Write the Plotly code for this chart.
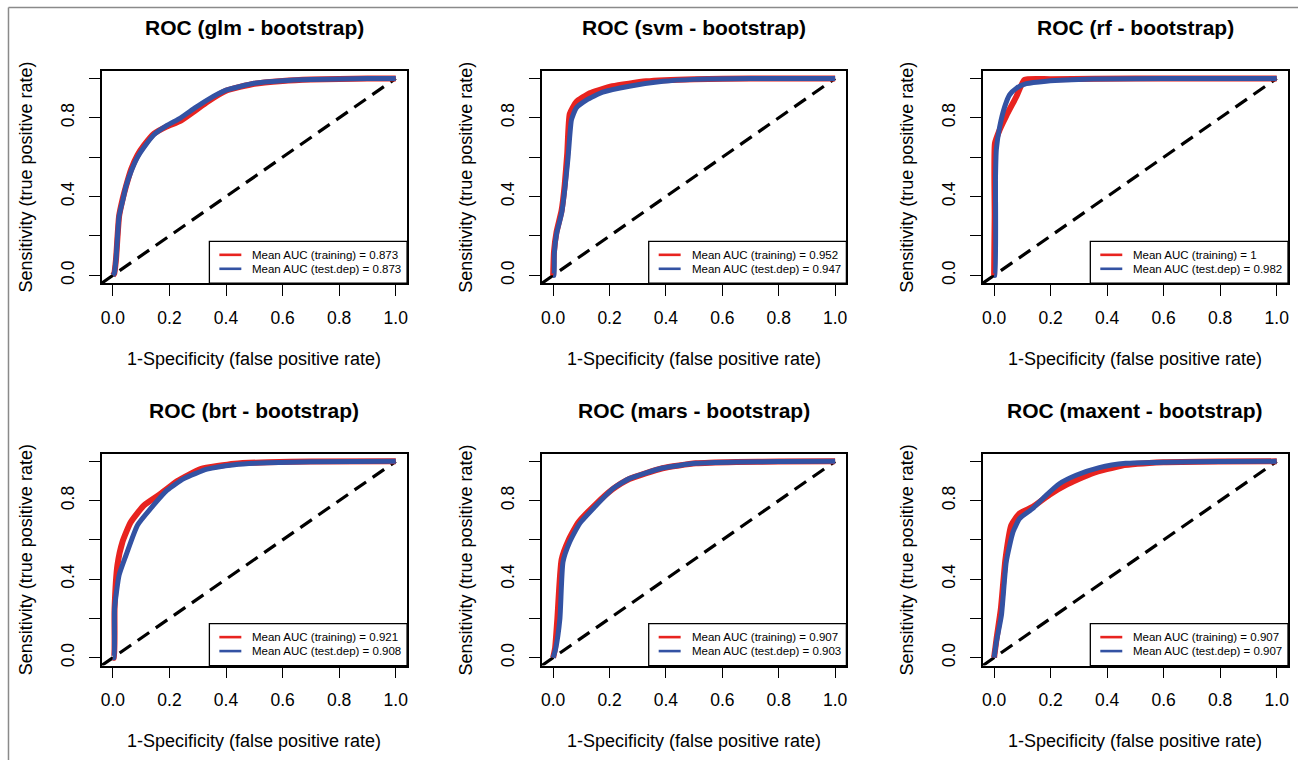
import plotly.graph_objects as go

# ---------------- data ----------------
model_titles = ["ROC (glm - bootstrap)", "ROC (svm - bootstrap)", "ROC (rf - bootstrap)",
                "ROC (brt - bootstrap)", "ROC (mars - bootstrap)", "ROC (maxent - bootstrap)"]
auc_training = ["0.873", "0.952", "1", "0.921", "0.907", "0.907"]
auc_testdep = ["0.873", "0.947", "0.982", "0.908", "0.903", "0.907"]

glm_train_fpr = [0, 0.005, 0.011, 0.022, 0.035, 0.046, 0.065, 0.087, 0.11, 0.146, 0.19, 0.24, 0.29, 0.333, 0.4, 0.5, 0.6, 0.7, 0.8, 0.9, 1.0]
glm_train_tpr = [0, 0.01, 0.08, 0.3, 0.39, 0.45, 0.54, 0.61, 0.66, 0.72, 0.755, 0.785, 0.835, 0.88, 0.937, 0.973, 0.987, 0.994, 0.997, 0.999, 1.0]
glm_test_fpr = [0, 0.005, 0.011, 0.022, 0.035, 0.046, 0.065, 0.087, 0.11, 0.146, 0.19, 0.24, 0.29, 0.333, 0.4, 0.5, 0.6, 0.7, 0.8, 0.9, 1.0]
glm_test_tpr = [0, 0.01, 0.08, 0.3, 0.38, 0.45, 0.53, 0.6, 0.65, 0.715, 0.76, 0.8, 0.85, 0.89, 0.94, 0.975, 0.988, 0.994, 0.997, 0.999, 1.0]

svm_train_fpr = [0, 0.003, 0.012, 0.03, 0.041, 0.05, 0.059, 0.082, 0.13, 0.21, 0.33, 0.5, 0.7, 1.0]
svm_train_tpr = [0, 0.12, 0.22, 0.33, 0.46, 0.62, 0.82, 0.88, 0.925, 0.96, 0.985, 0.996, 0.999, 1.0]
svm_test_fpr = [0, 0.003, 0.004, 0.012, 0.03, 0.041, 0.053, 0.065, 0.082, 0.118, 0.176, 0.27, 0.39, 0.5, 0.7, 1.0]
svm_test_tpr = [0, 0.0, 0.11, 0.21, 0.315, 0.434, 0.6, 0.79, 0.85, 0.89, 0.93, 0.96, 0.985, 0.995, 0.999, 1.0]

rf_train_fpr = [0, 0.002, 0.003, 0.02, 0.043, 0.079, 0.108, 0.2, 0.5, 1.0]
rf_train_tpr = [0, 0.3, 0.67, 0.74, 0.81, 0.908, 0.993, 0.996, 0.999, 1.0]
rf_test_fpr = [0, 0.003, 0.005, 0.008, 0.02, 0.038, 0.055, 0.079, 0.114, 0.184, 0.35, 0.6, 1.0]
rf_test_tpr = [0, 0.0, 0.5, 0.64, 0.756, 0.858, 0.917, 0.95, 0.973, 0.986, 0.997, 0.999, 1.0]

brt_train_fpr = [0, 0.004, 0.006, 0.016, 0.034, 0.063, 0.11, 0.169, 0.228, 0.31, 0.43, 0.55, 0.7, 1.0]
brt_train_tpr = [0, 0.0, 0.25, 0.47, 0.59, 0.69, 0.776, 0.835, 0.9, 0.96, 0.988, 0.996, 0.999, 1.0]
brt_test_fpr = [0, 0.004, 0.006, 0.022, 0.046, 0.087, 0.134, 0.192, 0.251, 0.333, 0.43, 0.545, 0.7, 1.0]
brt_test_tpr = [0, 0.0, 0.25, 0.42, 0.52, 0.675, 0.76, 0.853, 0.912, 0.96, 0.983, 0.993, 0.998, 1.0]

mars_train_fpr = [0, 0.007, 0.015, 0.03, 0.055, 0.09, 0.15, 0.21, 0.27, 0.388, 0.506, 0.65, 0.8, 1.0]
mars_train_tpr = [0, 0.05, 0.2, 0.5, 0.6, 0.69, 0.78, 0.857, 0.91, 0.965, 0.99, 0.997, 0.999, 1.0]
mars_test_fpr = [0, 0.009, 0.024, 0.035, 0.059, 0.094, 0.153, 0.212, 0.27, 0.388, 0.506, 0.65, 0.8, 1.0]
mars_test_tpr = [0, 0.047, 0.2, 0.488, 0.59, 0.683, 0.776, 0.861, 0.912, 0.966, 0.99, 0.997, 0.999, 1.0]

maxent_train_fpr = [0, 0.008, 0.024, 0.04, 0.061, 0.09, 0.137, 0.196, 0.255, 0.349, 0.45, 0.6, 0.8, 1.0]
maxent_train_tpr = [0, 0.09, 0.25, 0.5, 0.675, 0.734, 0.768, 0.83, 0.88, 0.94, 0.978, 0.995, 0.999, 1.0]
maxent_test_fpr = [0, 0.008, 0.026, 0.043, 0.067, 0.09, 0.137, 0.184, 0.231, 0.29, 0.372, 0.466, 0.6, 0.8, 1.0]
maxent_test_tpr = [0, 0.08, 0.217, 0.488, 0.64, 0.708, 0.76, 0.827, 0.886, 0.929, 0.968, 0.99, 0.996, 0.999, 1.0]

diag_x = [-0.04, 1.0]
diag_y = [-0.04, 1.0]

x_tickvals = [0.0, 0.2, 0.4, 0.6, 0.8, 1.0]
x_ticktext = ["0.0", "0.2", "0.4", "0.6", "0.8", "1.0"]
y_tickvals = [0.0, 0.2, 0.4, 0.6, 0.8, 1.0]
y_ticktext = ["0.0", "", "0.4", "", "0.8", ""]

x_title = "1-Specificity (false positive rate)"
y_title = "Sensitivity (true positive rate)"

train_curves = [(glm_train_fpr, glm_train_tpr), (svm_train_fpr, svm_train_tpr), (rf_train_fpr, rf_train_tpr),
                (brt_train_fpr, brt_train_tpr), (mars_train_fpr, mars_train_tpr), (maxent_train_fpr, maxent_train_tpr)]
test_curves = [(glm_test_fpr, glm_test_tpr), (svm_test_fpr, svm_test_tpr), (rf_test_fpr, rf_test_tpr),
               (brt_test_fpr, brt_test_tpr), (mars_test_fpr, mars_test_tpr), (maxent_test_fpr, maxent_test_tpr)]

# ---------------- layout geometry ----------------
W, H = 1299, 762
col_px = [(100.7, 406.7), (541.7, 846.7), (983.3, 1289.0)]
row_px = [(70.7, 284.0), (454.7, 667.3)]

RED = "#e8231f"
BLUE = "#3352a3"
FONT = "Liberation Sans, Arial, sans-serif"

fig = go.Figure()
layout = dict(width=W, height=H, margin=dict(l=0, r=0, t=0, b=0),
              paper_bgcolor="white", plot_bgcolor="white",
              font=dict(family=FONT, color="black"), showlegend=False)
annotations = []
shapes = []


def px_x(p):
    return p / W


def px_y(p):
    return 1 - p / H


for i in range(6):
    r, c = divmod(i, 3)
    n = i + 1
    xa = "x" if n == 1 else f"x{n}"
    ya = "y" if n == 1 else f"y{n}"
    x0, x1 = col_px[c]
    top, bot = row_px[r]
    xdom = [px_x(x0), px_x(x1)]
    ydom = [px_y(bot), px_y(top)]

    axis_common = dict(range=[-0.04, 1.04], showgrid=False, zeroline=False,
                       showline=True, mirror=True, linecolor="black", linewidth=1.5,
                       ticks="outside", ticklen=11, tickwidth=1.2, tickcolor="black",
                       tickfont=dict(family=FONT, size=17.5, color="black"), fixedrange=True)
    layout[f"xaxis{'' if n == 1 else n}"] = dict(axis_common, domain=xdom, anchor=ya,
                                                 tickmode="array", tickvals=x_tickvals, ticktext=x_ticktext,
                                                 ticklabelstandoff=7)
    layout[f"yaxis{'' if n == 1 else n}"] = dict(axis_common, domain=ydom, anchor=xa,
                                                 tickmode="array", tickvals=y_tickvals, ticktext=y_ticktext,
                                                 tickangle=-90, ticklabelstandoff=8)

    # diagonal reference
    fig.add_trace(go.Scatter(x=diag_x, y=diag_y, mode="lines", xaxis=xa, yaxis=ya,
                             line=dict(color="black", width=3.2, dash="14px,8px"),
                             hoverinfo="skip"))
    tx, ty = train_curves[i]
    ex, ey = test_curves[i]
    fig.add_trace(go.Scatter(x=tx, y=ty, mode="lines", xaxis=xa, yaxis=ya,
                             name=f"Mean AUC (training) = {auc_training[i]}",
                             line=dict(color=RED, width=6, shape="spline", smoothing=0.5),
                             hoverinfo="skip"))
    fig.add_trace(go.Scatter(x=ex, y=ey, mode="lines", xaxis=xa, yaxis=ya,
                             name=f"Mean AUC (test.dep) = {auc_testdep[i]}",
                             line=dict(color=BLUE, width=5, shape="spline", smoothing=0.5),
                             hoverinfo="skip"))

    # legend box (R style, bottom-right)
    shapes.append(dict(type="rect", xref="paper", yref="paper",
                       x0=px_x(x1 - 198), x1=px_x(x1), y0=px_y(bot), y1=px_y(bot - 42),
                       fillcolor="white", line=dict(color="black", width=1.3), layer="above"))
    for k, (col, lab) in enumerate([(RED, f"Mean AUC (training) = {auc_training[i]}"),
                                    (BLUE, f"Mean AUC (test.dep) = {auc_testdep[i]}")]):
        yy = bot - 28.5 + 14 * k
        shapes.append(dict(type="line", xref="paper", yref="paper",
                           x0=px_x(x1 - 188), x1=px_x(x1 - 166), y0=px_y(yy), y1=px_y(yy),
                           line=dict(color=col, width=2.6), layer="above"))
        annotations.append(dict(text=lab, x=px_x(x1 - 157), y=px_y(yy), xref="paper", yref="paper",
                                showarrow=False, xanchor="left", yanchor="middle",
                                font=dict(family=FONT, size=11.5, color="black")))

    cx = (x0 + x1) / 2
    cy = (top + bot) / 2
    annotations.append(dict(text=f"<b>{model_titles[i]}</b>", x=px_x(cx), y=px_y(top - 43),
                            xref="paper", yref="paper", showarrow=False, xanchor="center", yanchor="middle",
                            font=dict(family=FONT, size=21, color="black")))
    annotations.append(dict(text=x_title, x=px_x(cx), y=px_y(bot + 76),
                            xref="paper", yref="paper", showarrow=False, xanchor="center", yanchor="middle",
                            font=dict(family=FONT, size=18, color="black")))
    annotations.append(dict(text=y_title, x=px_x(x0 - 76), y=px_y(cy), textangle=-90,
                            xref="paper", yref="paper", showarrow=False, xanchor="center", yanchor="middle",
                            font=dict(family=FONT, size=18, color="black")))

# outer grey frame (left and top edges)
shapes.append(dict(type="line", xref="paper", yref="paper", x0=px_x(7.5), x1=px_x(7.5), y0=0, y1=px_y(7.5),
                   line=dict(color="#8a8a8a", width=1.5)))
shapes.append(dict(type="line", xref="paper", yref="paper", x0=px_x(7.5), x1=1, y0=px_y(7.5), y1=px_y(7.5),
                   line=dict(color="#8a8a8a", width=1.5)))

layout["annotations"] = annotations
layout["shapes"] = shapes
fig.update_layout(**layout)

fig.write_html("out.html", config={"displayModeBar": False},
               post_script="document.body.style.margin='0px';document.body.style.overflow='hidden';")
